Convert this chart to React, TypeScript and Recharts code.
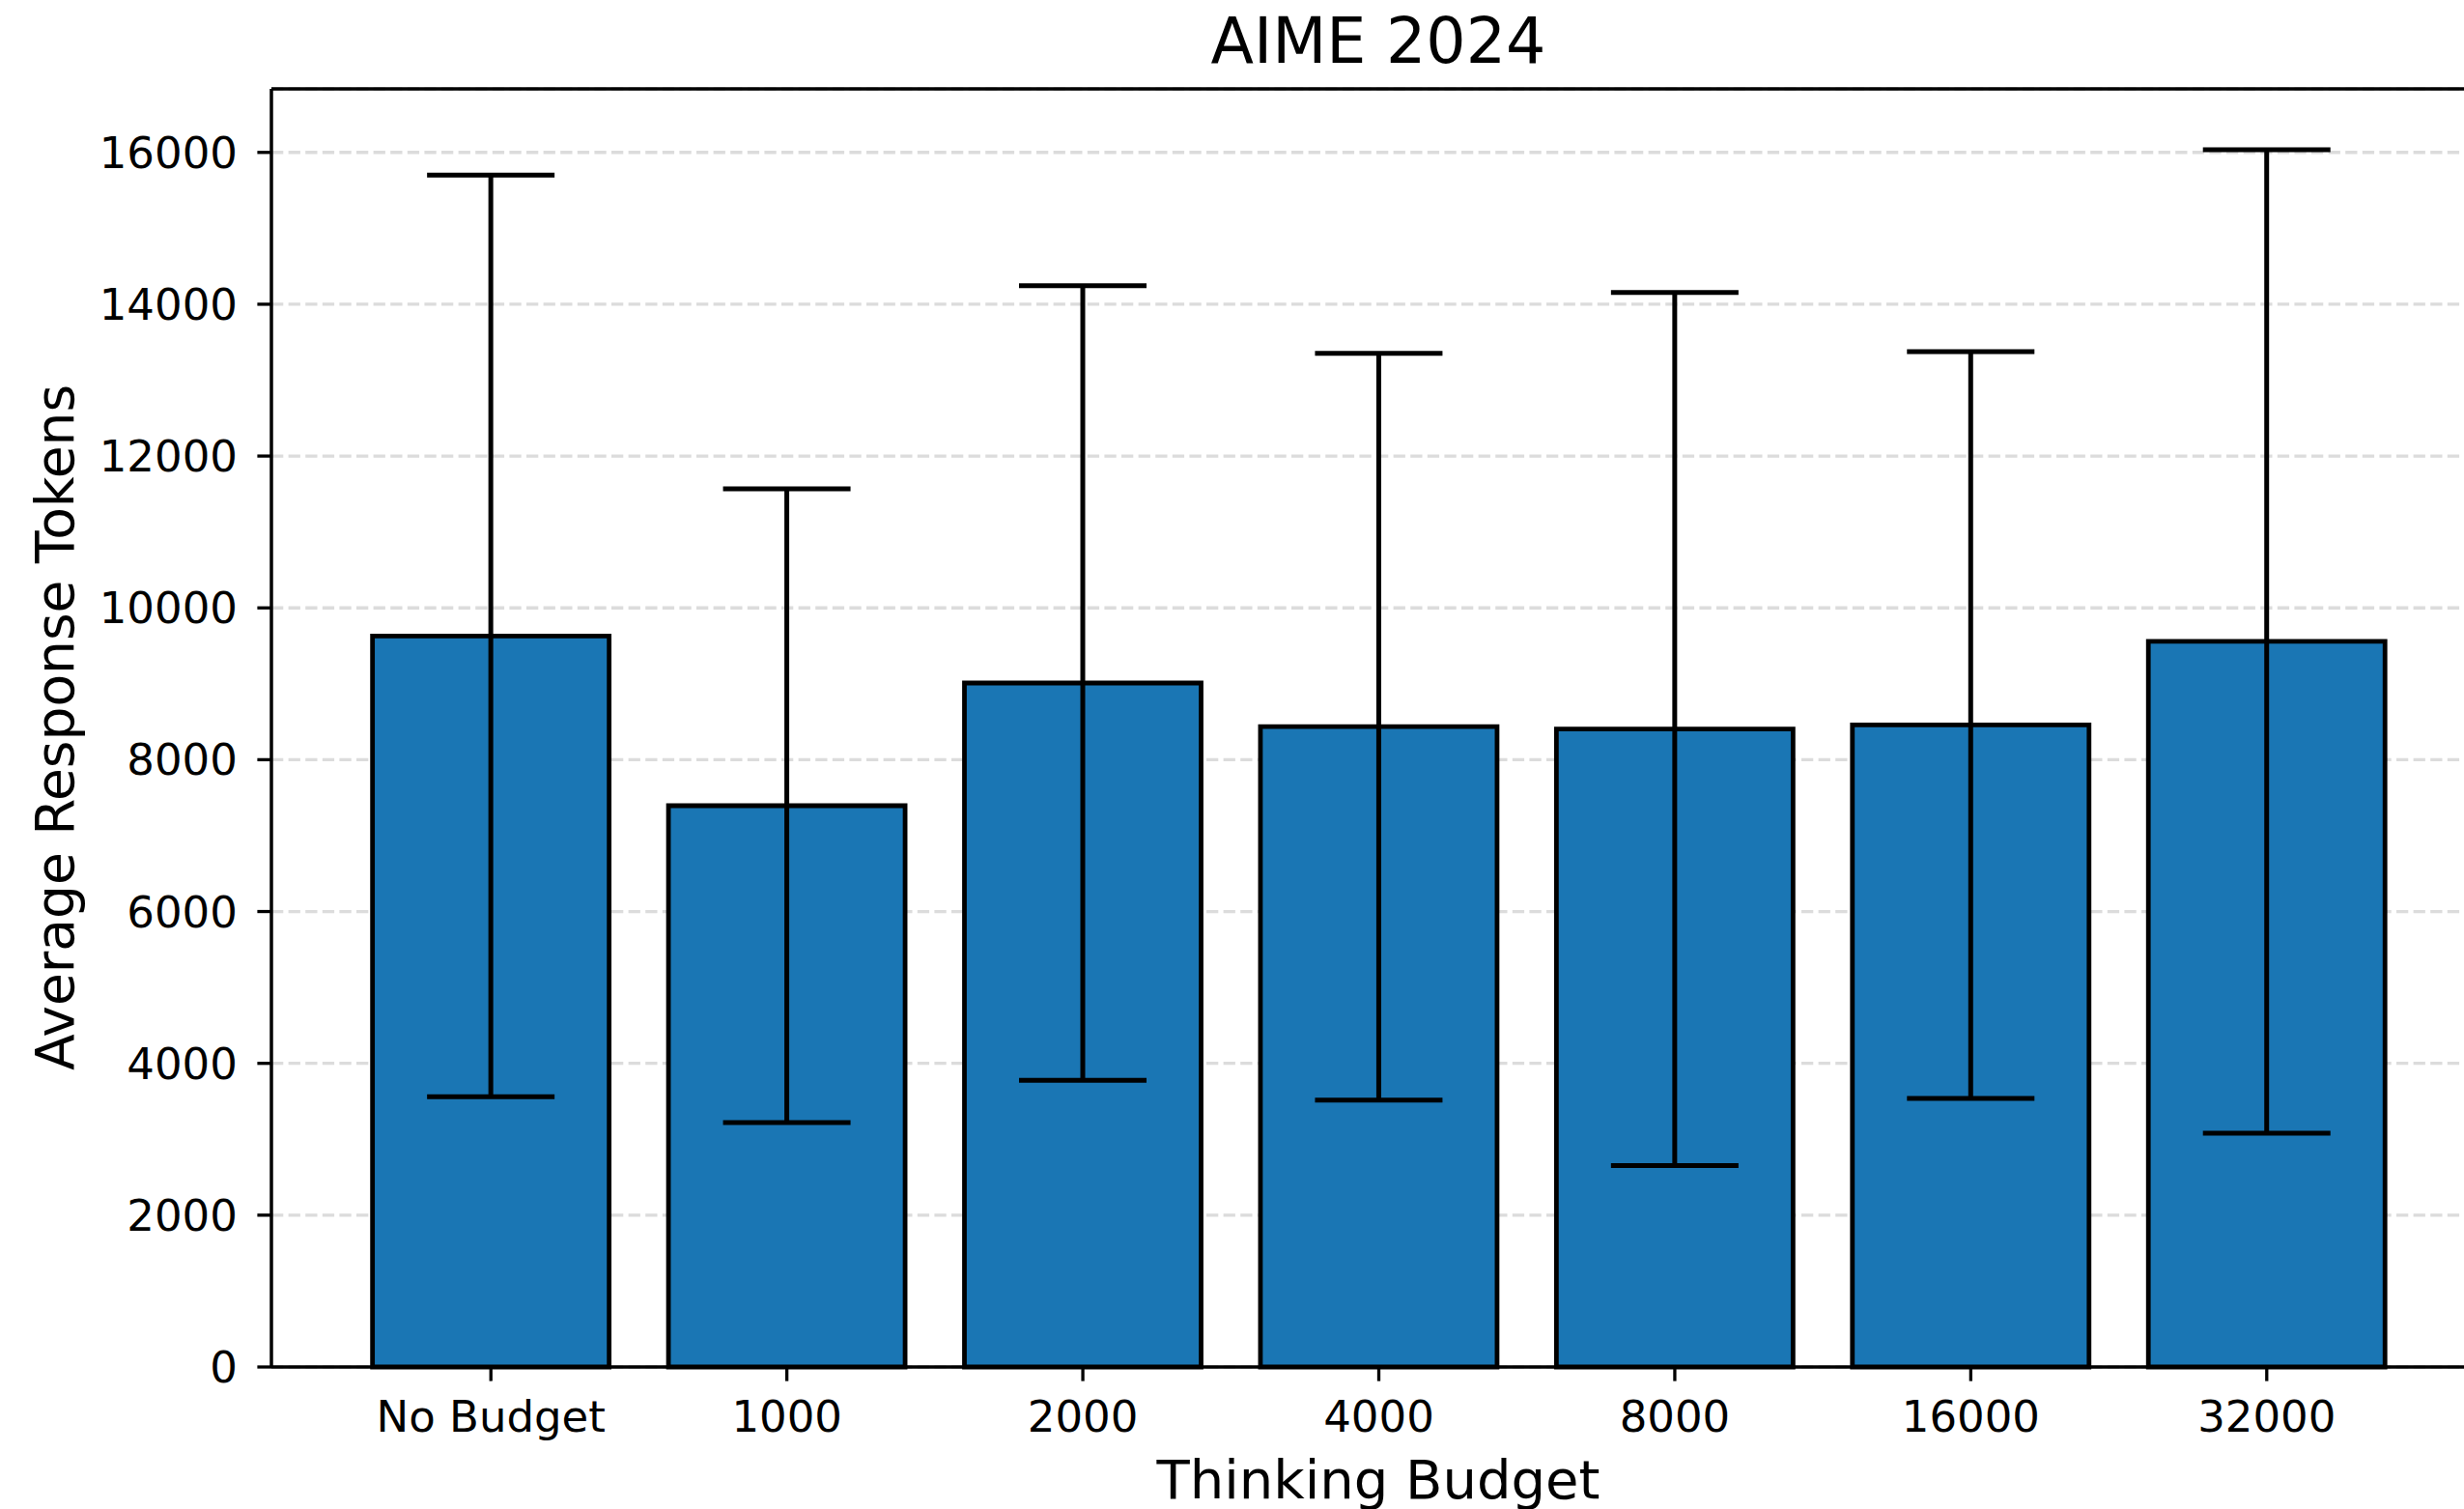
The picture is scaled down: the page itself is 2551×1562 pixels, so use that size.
import { Bar, BarChart, CartesianGrid, ErrorBar, ReferenceLine, XAxis, YAxis } from "recharts";

const FONT = "DejaVu Sans";
const BLUE = "#1a76b4";

const CATEGORIES = ["No Budget", "1000", "2000", "4000", "8000", "16000", "32000"];
const MEANS = [9630, 7394, 9010, 8435, 8404, 8457, 9558];
const ERRORS = [6070, 4174, 5234, 4918, 5752, 4918, 6478];
const Y_TICKS = [0, 2000, 4000, 6000, 8000, 10000, 12000, 14000, 16000];
const Y_MAX = 16837;

const data = CATEGORIES.map((budget, i) => ({ budget, mean: MEANS[i], err: ERRORS[i] }));

export default function App() {
  return (
    <div
      style={{
        position: "fixed",
        left: 0,
        top: 0,
        width: 2551,
        height: 1562,
        overflow: "hidden",
        background: "#fff",
      }}
    >
      <BarChart
        width={2600}
        height={1562}
        data={data}
        margin={{ top: 92, right: 26, left: 81, bottom: 47 }}
        barCategoryGap="10%"
      >
        <CartesianGrid vertical={false} stroke="#dcdcdc" strokeWidth={3.3} strokeDasharray="12.3 5.3" />
        <XAxis
          dataKey="budget"
          height={100}
          interval={0}
          padding={{ left: 74, right: 74 }}
          tickSize={14.6}
          tickMargin={20.8}
          axisLine={{ stroke: "#000", strokeWidth: 3.5 }}
          tickLine={{ stroke: "#000", strokeWidth: 3.3 }}
          tick={{ fill: "#000", fontSize: 45, fontFamily: FONT }}
        />
        <YAxis
          width={200}
          domain={[0, Y_MAX]}
          ticks={Y_TICKS}
          tickSize={14.6}
          tickMargin={20.5}
          axisLine={{ stroke: "#000", strokeWidth: 3.5 }}
          tickLine={{ stroke: "#000", strokeWidth: 3.3 }}
          tick={{ fill: "#000", fontSize: 45, fontFamily: FONT }}
        />
        <ReferenceLine y={Y_MAX} stroke="#000" strokeWidth={3.5} />
        <Bar dataKey="mean" fill={BLUE} stroke="#000" strokeWidth={4.8} isAnimationActive={false}>
          <ErrorBar dataKey="err" direction="y" width={66} stroke="#000" strokeWidth={5} isAnimationActive={false} />
        </Bar>
      </BarChart>
      <svg
        width={2551}
        height={1562}
        style={{ position: "absolute", left: 0, top: 0, pointerEvents: "none" }}
      >
        <text x={1427} y={65} textAnchor="middle" fontFamily={FONT} fontSize={65} fill="#000">
          AIME 2024
        </text>
        <text x={1427} y={1551} textAnchor="middle" fontFamily={FONT} fontSize={56} fill="#000">
          Thinking Budget
        </text>
        <text
          x={76}
          y={753}
          transform="rotate(-90 76 753)"
          textAnchor="middle"
          fontFamily={FONT}
          fontSize={55}
          fill="#000"
        >
          Average Response Tokens
        </text>
      </svg>
    </div>
  );
}
